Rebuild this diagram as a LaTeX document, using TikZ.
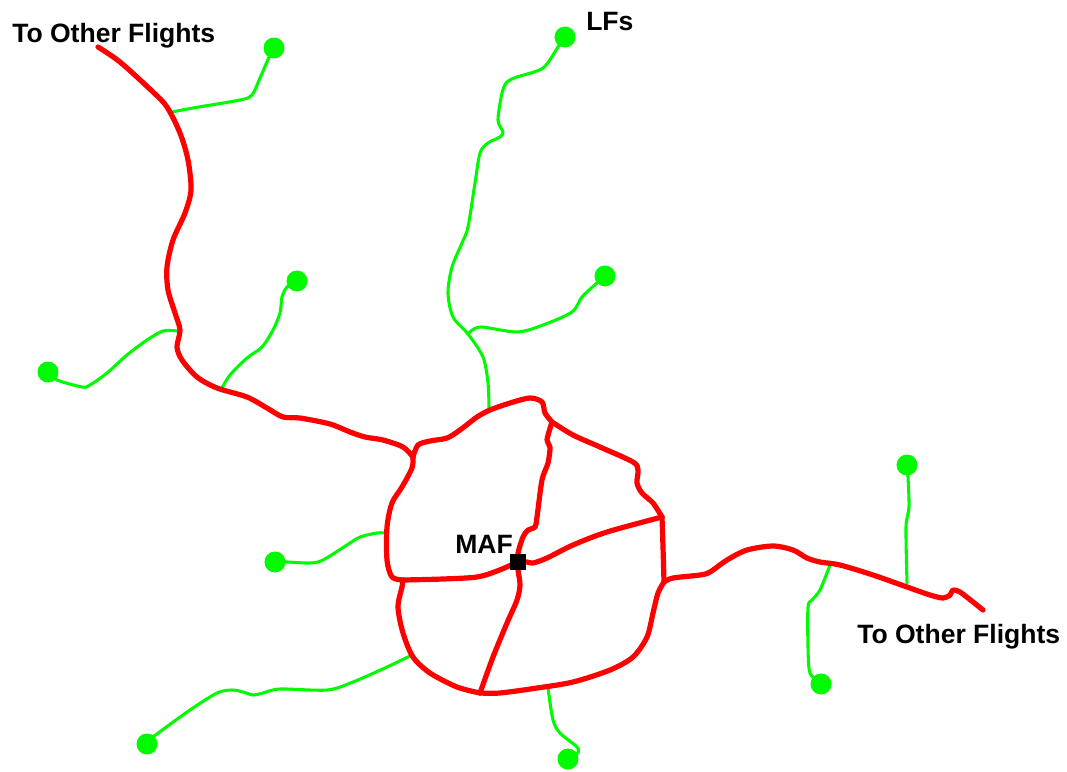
\documentclass[tikz,border=0pt]{standalone}
\usepackage{fontspec}
\setmainfont{Liberation Sans}
\definecolor{routeRed}{RGB}{255,0,0}
\definecolor{lfGreen}{RGB}{0,250,0}
\begin{document}
\begin{tikzpicture}[x=0.75pt,y=-0.75pt,
  redline/.style={draw=routeRed,line width=3.9pt,line cap=round,line join=round},
  greenline/.style={draw=lfGreen,line width=2.3pt,line cap=round,line join=round},
  lfdot/.style={circle,fill=lfGreen,minimum size=15.5pt,inner sep=0pt},
  mafbox/.style={rectangle,fill=black,minimum size=12pt,inner sep=0pt},
  lbl/.style={font=\fontsize{19.9}{22}\selectfont\bfseries,inner sep=0pt,anchor=base west}]
\useasboundingbox (0,0) rectangle (1067,771);
% junction coordinates
\coordinate (endTL) at (98,47);
\coordinate (endR) at (983,610);
\coordinate (jTL) at (413,457);
\coordinate (jT) at (552,422);
\coordinate (jR) at (662,517);
\coordinate (jRR) at (664,582);
\coordinate (jB) at (480,693);
\coordinate (jL) at (403,580);
\coordinate (g1) at (172,112);
\coordinate (g2) at (177,331);
\coordinate (g3) at (222,388);
\coordinate (gJ) at (468,334);
\coordinate (gTop) at (489,408);
\coordinate (gL) at (385,533);
\coordinate (gLL) at (412,655);
\coordinate (gB) at (548,688);
\coordinate (gR1) at (830,565);
\coordinate (gR2) at (907,583);
% nodes
\node[lfdot] (d1) at (274,48) {};
\node[lfdot] (d2) at (48,372) {};
\node[lfdot] (d3) at (297,281) {};
\node[lfdot] (dLF) at (565,37) {};
\node[lfdot] (d5) at (605,276) {};
\node[lfdot] (d6) at (275,562) {};
\node[lfdot] (d7) at (147,744) {};
\node[lfdot] (d8) at (568,759) {};
\node[lfdot] (d9) at (821,684) {};
\node[lfdot] (d10) at (907,465) {};
\node[mafbox] (maf) at (518,562) {};
% green links
\draw[greenline] plot[smooth,tension=0.5] coordinates {(g1) (193,108) (240,100) (252,95) (260,78) (270,55) (d1)};
\draw[greenline] plot[smooth,tension=0.5] coordinates {(g2) (163,331) (147,340) (127,355) (107,373) (90,385) (82,387) (57,380) (d2)};
\draw[greenline] plot[smooth,tension=0.5] coordinates {(g3) (230,375) (247,358) (262,347) (273,330) (280,313) (282,297) (287,287) (d3)};
\draw[greenline] plot[smooth,tension=0.5] coordinates {(dLF) (558,47) (543,68) (517,77) (507,82) (502,93) (498,120) (503,132) (500,137) (488,143) (480,153) (475,183) (468,227) (462,243) (452,267) (448,293) (453,317) (gJ) (483,357) (488,383) (gTop)};
\draw[greenline] plot[smooth,tension=0.5] coordinates {(gJ) (480,327) (517,332) (543,325) (572,312) (582,297) (598,282) (d5)};
\draw[greenline] plot[smooth,tension=0.5] coordinates {(gL) (377,533) (360,537) (347,545) (323,560) (310,563) (287,562) (d6)};
\draw[greenline] plot[smooth,tension=0.5] coordinates {(gLL) (387,667) (353,682) (327,690) (280,689) (263,693) (253,695) (243,692) (232,690) (217,693) (190,710) (153,737) (d7)};
\draw[greenline] plot[smooth,tension=0.5] coordinates {(gB) (553,720) (560,733) (577,747) (578,753) (573,755) (d8)};
\draw[greenline] plot[smooth,tension=0.5] coordinates {(gR1) (820,590) (812,600) (808,607) (808,647) (810,673) (d9)};
\draw[greenline] plot[smooth,tension=0.5] coordinates {(d10) (908,477) (909,507) (906,527) (gR2)};
% red routes
\draw[redline] plot[smooth,tension=0.5] coordinates {(endTL) (120,62) (153,92) (167,107) (180,133) (188,160) (191,190) (185,213) (173,240) (167,267) (168,290) (175,313) (180,330) (177,347) (182,360) (197,377) (217,388) (247,397) (267,408) (283,417) (300,418) (330,424) (350,432) (365,437) (383,440) (403,447) (jTL)};
\draw[redline] plot[smooth,tension=0.5] coordinates {(jTL) (418,445) (430,441) (447,438) (460,430) (477,417) (490,410) (510,403) (530,398) (542,402) (545,413) (jT)};
\draw[redline] plot[smooth,tension=0.5] coordinates {(jT) (573,435) (600,447) (633,462) (638,470) (637,483) (642,493) (653,503) (jR)};
\draw[redline] plot[smooth,tension=0.5] coordinates {(jR) (663,547) (jRR)};
\draw[redline] plot[smooth,tension=0.5] coordinates {(jRR) (658,593) (653,613) (647,637) (633,657) (610,670) (573,682) (537,688) (500,693) (jB)};
\draw[redline] plot[smooth,tension=0.5] coordinates {(jB) (457,687) (430,673) (413,657) (403,633) (398,607) (402,587) (jL)};
\draw[redline] plot[smooth,tension=0.5] coordinates {(jL) (392,577) (387,560) (387,527) (392,503) (402,487) (412,468) (jTL)};
\draw[redline] plot[smooth,tension=0.5] coordinates {(jL) (443,579) (477,577) (497,571) (maf)};
\draw[redline] plot[smooth,tension=0.5] coordinates {(maf) (527,562) (533,563) (547,558) (573,545) (607,532) (jR)};
\draw[redline] plot[smooth,tension=0.5] coordinates {(maf) (518,553) (523,537) (528,530) (535,527) (537,517) (542,480) (548,463) (550,447) (547,440) (jT)};
\draw[redline] plot[smooth,tension=0.5] coordinates {(maf) (518,570) (520,585) (517,600) (507,623) (493,657) (jB)};
\draw[redline] plot[smooth,tension=0.5] coordinates {(jRR) (673,578) (700,575) (710,572) (727,560) (747,550) (773,546) (793,550) (807,558) (820,562) (840,565) (873,575) (907,587) (930,595) (943,598) (950,595) (953,590) (960,592) (973,602) (endR)};
% redraw nodes on top
\node[lfdot] at (d1) {};
\node[lfdot] at (d2) {};
\node[lfdot] at (d3) {};
\node[lfdot] at (dLF) {};
\node[lfdot] at (d5) {};
\node[lfdot] at (d6) {};
\node[lfdot] at (d7) {};
\node[lfdot] at (d8) {};
\node[lfdot] at (d9) {};
\node[lfdot] at (d10) {};
\node[mafbox] at (maf) {};
% labels
\node[lbl] (tTL) at (12,42) {To Other Flights};
\node[lbl] (tR) at (857,643) {To Other Flights};
\node[lbl] (tMAF) at (455,553) {MAF};
\node[lbl] (tLF) at (586,31) {LFs};
\end{tikzpicture}
\end{document}
